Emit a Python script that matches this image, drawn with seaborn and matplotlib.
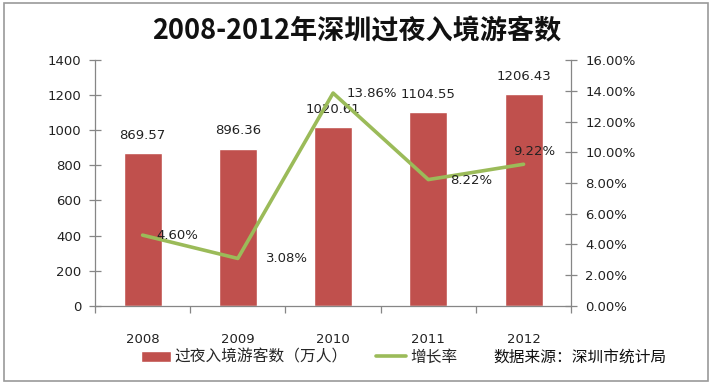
import numpy as np
import pandas as pd
import matplotlib
matplotlib.use("Agg")
import matplotlib.pyplot as plt
from matplotlib.patches import Patch, Rectangle
from matplotlib.lines import Line2D
import seaborn as sns

# ── data ───────────────────────────────────────────────────────────────────────
years = ["2008", "2009", "2010", "2011", "2012"]
visitors = [869.57, 896.36, 1020.61, 1104.55, 1206.43]      # 万人
growth = [4.60, 3.08, 13.86, 8.22, 9.22]                    # %

title = "2008-2012年深圳过夜入境游客数"
bar_label = "过夜入境游客数（万人）"
line_label = "增长率"
source = "数据来源：深圳市统计局"

BAR_COLOR = "#C0504D"
LINE_COLOR = "#9BBB59"
AXIS_COLOR = "#868686"
TEXT_COLOR = "#222222"

sns.set_theme(style="white")
plt.rcParams["font.family"] = ["DejaVu Sans", "Noto Sans CJK SC"]

df = pd.DataFrame({"year": years, "visitors": visitors, "growth": growth})

fig = plt.figure(figsize=(7.14, 3.86), dpi=100)
ax = fig.add_axes([0.133, 0.208, 0.667, 0.636])

sns.barplot(data=df, x="year", y="visitors", color=BAR_COLOR, width=0.4,
            saturation=1, ax=ax)
ax.set_ylim(0, 1400)
ax.set_yticks(np.arange(0, 1401, 200))
ax.set_xlabel("")
ax.set_ylabel("")
ax.bar_label(ax.containers[0], labels=[f"{v:.2f}" for v in visitors],
             padding=8, fontsize=9.5, color=TEXT_COLOR)

# ── growth line on the secondary axis ─────────────────────────────────────────
ax2 = ax.twinx()
sns.lineplot(x=np.arange(len(years)), y=growth, color=LINE_COLOR, linewidth=2.6,
             ax=ax2)
ax2.set_ylim(0, 16)
ax2.set_yticks(np.arange(0, 16.1, 2))
ax2.set_yticklabels([f"{t:.2f}%" for t in np.arange(0, 16.1, 2)])

label_offsets = [(10, 0, "left"), (20, 0, "left"), (10, 0, "left"),
                 (16, -1, "left"), (8, 9, "center")]
for i, (g, (dx, dy, ha)) in enumerate(zip(growth, label_offsets)):
    ax2.annotate(f"{g:.2f}%", (i, g), xytext=(dx, dy), textcoords="offset points",
                 ha=ha, va="center", fontsize=9.5, color=TEXT_COLOR)

# ── axes styling ──────────────────────────────────────────────────────────────
for a in (ax, ax2):
    a.spines["top"].set_visible(False)
    for side in ("left", "right", "bottom"):
        a.spines[side].set_color(AXIS_COLOR)
        a.spines[side].set_linewidth(0.9)
ax.spines["right"].set_visible(False)
ax2.spines["left"].set_visible(False)
ax2.spines["bottom"].set_visible(False)

ax.set_xlim(-0.5, len(years) - 0.5)
ax.set_xticks(np.arange(len(years) + 1) - 0.5, minor=True)
ax.tick_params(axis="x", which="major", length=0, pad=20, labelsize=9.5,
               colors=TEXT_COLOR)
ax.tick_params(axis="x", which="minor", length=5, direction="out",
               color=AXIS_COLOR, width=0.9, bottom=True)
ax.tick_params(axis="y", length=8, direction="inout", color=AXIS_COLOR,
               width=0.9, labelsize=9.5, pad=6, left=True, labelcolor=TEXT_COLOR)
ax2.tick_params(axis="y", length=8, direction="inout", color=AXIS_COLOR,
                width=0.9, labelsize=9.5, pad=6, right=True, labelcolor=TEXT_COLOR)
ax.grid(False)
ax2.grid(False)

# ── title, legend, source ─────────────────────────────────────────────────────
fig.text(0.5, 1 - 31 / 386, title, ha="center", va="center", fontsize=19.5,
         fontweight="bold", family=["Noto Sans CJK SC"], color="#111111")

legend_y = 1 - 357 / 386
legend_font = {"family": ["Noto Sans CJK SC"], "size": 11.3}
fig.legend(handles=[Patch(facecolor=BAR_COLOR, label=bar_label)],
           loc="center left", bbox_to_anchor=(127 / 714, legend_y),
           frameon=False, handlelength=1.9, handletextpad=0.25, prop=legend_font)
fig.legend(handles=[Line2D([0], [0], color=LINE_COLOR, linewidth=2.6,
                           label=line_label)],
           loc="center left", bbox_to_anchor=(362 / 714, legend_y),
           frameon=False, handlelength=1.9, handletextpad=0.25, prop=legend_font)
fig.text(493 / 714, legend_y, source, ha="left", va="center", fontsize=11.3,
         family=["Noto Sans CJK SC"], color="#111111")

fig.patches.append(Rectangle((0.006, 0.012), 0.986, 0.98, transform=fig.transFigure,
                             fill=False, edgecolor="#9A9A9A", linewidth=1.2))

fig.savefig("out.png", dpi=100)
